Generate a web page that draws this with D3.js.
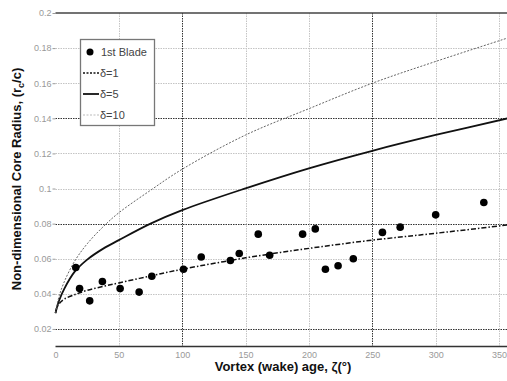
<!DOCTYPE html>
<html>
<head>
<meta charset="utf-8">
<script src="https://cdn.jsdelivr.net/npm/d3@7"></script>
<style>
  body { margin: 0; background: #fff; }
  svg { display: block; font-family: "Liberation Sans", Arial, sans-serif; }
</style>
</head>
<body>
<div id="graph"></div>
<script>
// measured points, 1st blade
var bladeAge = [16, 19, 27, 37, 51, 66, 76, 101, 115, 138, 145, 160, 169, 195, 205, 213, 223, 235, 258, 272, 300, 338];
var bladeRc = [0.055, 0.043, 0.036, 0.047, 0.043, 0.041, 0.050, 0.054, 0.061, 0.059, 0.063, 0.074, 0.062, 0.074, 0.077, 0.054, 0.056, 0.060, 0.075, 0.078, 0.085, 0.092];

// curves
var curveAge = [0, 1, 3, 7, 15, 25, 38, 50, 75, 100, 150, 200, 250, 300, 360];
var delta1 = [0.029, 0.032, 0.0345, 0.037, 0.0395, 0.042, 0.0443, 0.0462, 0.0502, 0.054, 0.0605, 0.0659, 0.0706, 0.0745, 0.0795];
var delta5 = [0.029, 0.032, 0.0365, 0.043, 0.0525, 0.0595, 0.0659, 0.0706, 0.080, 0.0877, 0.1001, 0.1115, 0.1215, 0.1305, 0.1405];
var delta10 = [0.029, 0.033, 0.039, 0.047, 0.0585, 0.0685, 0.0785, 0.0862, 0.099, 0.111, 0.1305, 0.1455, 0.160, 0.1724, 0.1865];

var xTicks = [0, 50, 100, 150, 200, 250, 300, 350];
var yTicks = [0.02, 0.04, 0.06, 0.08, 0.1, 0.12, 0.14, 0.16, 0.18, 0.2];
var darkX = [100, 250];
var darkY = [0.02, 0.08, 0.14];

var legendLabels = ['1st Blade', 'δ=1', 'δ=5', 'δ=10'];

var width = 507,
    height = 381;

var svg = d3.select('#graph')
    .append('svg')
        .attr('width', width)
        .attr('height', height);

var x = d3.scaleLinear()
    .domain([0, 360])
    .range([55.5, 511.7]);

var y = d3.scaleLinear()
    .domain([0.01, 0.2])
    .range([346.5, 13]);

// grid
var grid = svg.append('g');
grid.selectAll('.gy')
    .data(yTicks.filter(function(d) { return d < 0.2; }))
    .enter().append('line')
        .attr('x1', 55.5)
        .attr('x2', width)
        .attr('y1', function(d) { return Math.round(y(d)) + 0.5; })
        .attr('y2', function(d) { return Math.round(y(d)) + 0.5; })
        .attr('stroke', function(d) { return darkY.indexOf(d) >= 0 ? '#333' : '#c4c4c4'; })
        .attr('stroke-width', 1)
        .attr('stroke-dasharray', '1.5,1');
grid.selectAll('.gx')
    .data(xTicks.filter(function(d) { return d > 0; }))
    .enter().append('line')
        .attr('y1', 13)
        .attr('y2', 346.5)
        .attr('x1', function(d) { return Math.round(x(d)) + 0.5; })
        .attr('x2', function(d) { return Math.round(x(d)) + 0.5; })
        .attr('stroke', function(d) { return darkX.indexOf(d) >= 0 ? '#333' : '#c4c4c4'; })
        .attr('stroke-width', 1)
        .attr('stroke-dasharray', '1.5,1');

// axes
var xAxis = svg.append('g')
    .attr('transform', 'translate(0,346.5)')
    .call(d3.axisBottom(x).tickValues(xTicks).tickSize(0).tickPadding(5).tickFormat(d3.format('d')));
xAxis.select('.domain').attr('stroke', '#333').attr('stroke-width', 1.5).attr('d', 'M55.5,0H' + width);
xAxis.selectAll('text').attr('fill', '#999').attr('font-size', 9);

var yAxis = svg.append('g')
    .attr('transform', 'translate(55.5,0)')
    .call(d3.axisLeft(y).tickValues(yTicks).tickSize(3).tickPadding(1).tickFormat(function(d) { return +d.toFixed(2); }));
yAxis.select('.domain').remove();
yAxis.selectAll('line').attr('stroke', '#999');
yAxis.selectAll('text').attr('fill', '#999').attr('font-size', 9);

// top frame
svg.append('line')
    .attr('x1', 55.5).attr('x2', width)
    .attr('y1', y(0.2)).attr('y2', y(0.2))
    .attr('stroke', '#444').attr('stroke-width', 1.5);

// curves
var line = d3.line()
    .x(function(d) { return x(d[0]); })
    .y(function(d) { return y(d[1]); })
    .curve(d3.curveCatmullRom.alpha(0.5));

var styles = [
    {vals: delta1, color: '#111', w: 1.5, dash: '5,2,1.5,2'},
    {vals: delta5, color: '#111', w: 1.8, dash: null},
    {vals: delta10, color: '#666', w: 1, dash: '2,1.5'}
];

styles.forEach(function(s) {
    svg.append('path')
        .datum(d3.zip(curveAge, s.vals))
        .attr('d', line)
        .attr('fill', 'none')
        .attr('stroke', s.color)
        .attr('stroke-width', s.w)
        .attr('stroke-dasharray', s.dash);
});

// blade points
svg.append('g').selectAll('circle')
    .data(d3.zip(bladeAge, bladeRc))
    .enter().append('circle')
        .attr('cx', function(d) { return x(d[0]); })
        .attr('cy', function(d) { return y(d[1]); })
        .attr('r', 3.8)
        .attr('fill', '#000');

// legend
var legend = svg.append('g');
legend.append('rect')
    .attr('x', 80.5).attr('y', 39.5)
    .attr('width', 74).attr('height', 86)
    .attr('fill', '#fff')
    .attr('stroke', '#777')
    .attr('stroke-width', 1.3);

legendLabels.forEach(function(lab, i) {
    var ly = 52 + i * 21;
    if (i == 0) {
        legend.append('circle').attr('cx', 90).attr('cy', ly).attr('r', 3.5).attr('fill', '#000');
    } else {
        var s = styles[i - 1];
        legend.append('line')
            .attr('x1', 83).attr('x2', 99)
            .attr('y1', ly).attr('y2', ly)
            .attr('stroke', i == 3 ? '#bbb' : s.color)
            .attr('stroke-width', s.w)
            .attr('stroke-dasharray', i == 1 ? '2,1.5' : s.dash);
    }
    legend.append('text')
        .attr('x', i == 0 ? 101 : 100)
        .attr('y', ly + 4)
        .attr('font-size', 11)
        .attr('fill', '#444')
        .text(lab);
});

// axis titles
svg.append('text')
    .attr('x', 283)
    .attr('y', 371)
    .attr('text-anchor', 'middle')
    .attr('font-size', 13)
    .attr('font-weight', 'bold')
    .attr('fill', '#111')
    .text('Vortex (wake) age, ζ(°)');

var yt = svg.append('text')
    .attr('transform', 'translate(21,179) rotate(-90)')
    .attr('text-anchor', 'middle')
    .attr('font-size', 13)
    .attr('font-weight', 'bold')
    .attr('fill', '#111');
yt.append('tspan').text('Non-dimensional Core Radius, (r');
yt.append('tspan').attr('font-size', 9).attr('dy', 3).text('c');
yt.append('tspan').attr('dy', -3).text('/c)');
</script>
</body>
</html>
